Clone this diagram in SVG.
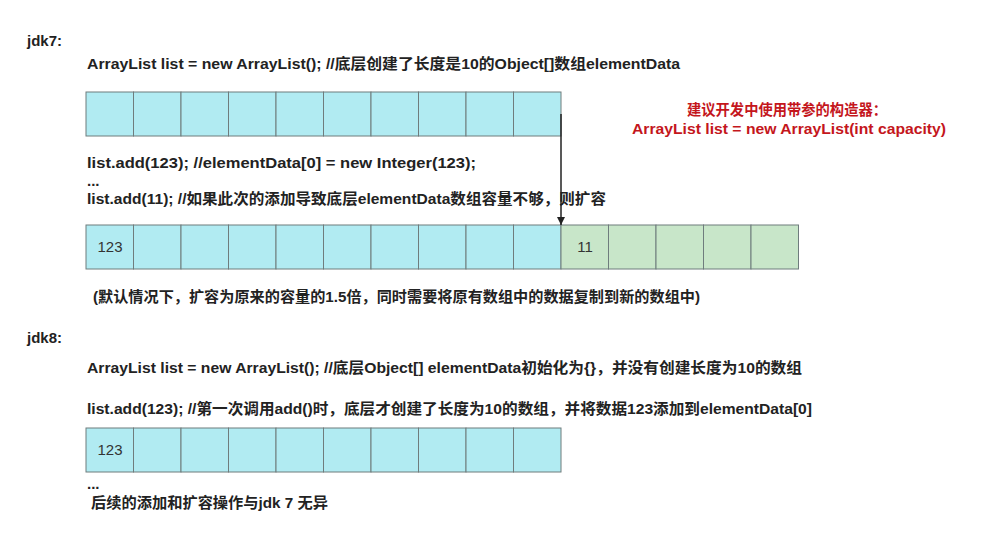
<svg xmlns="http://www.w3.org/2000/svg" width="984" height="537" viewBox="0 0 984 537">
<style>
.t{font-family:"Liberation Sans","Noto Sans CJK SC",sans-serif;font-size:15px;font-weight:bold;fill:#222}
.r{font-family:"Liberation Sans","Noto Sans CJK SC",sans-serif;font-size:15px;font-weight:bold;fill:#C4161C;text-anchor:middle}
.c{fill:#B1EBF2;stroke:#6F7C7D;stroke-width:1}
.g{fill:#C8E6C9;stroke:#6F7C7D;stroke-width:1}
.n{font-family:"Liberation Sans","Noto Sans",sans-serif;font-size:15px;fill:#333;text-anchor:middle}
</style>
<defs>
<marker id="ah" viewBox="0 0 10 10" refX="10" refY="5" markerWidth="8" markerHeight="8" orient="auto" markerUnits="userSpaceOnUse">
<path d="M0,0 L10,5 L0,10 z" fill="#222"/>
</marker>
<g id="cell"><rect class="c" x="0" y="0" width="47.5" height="44"/></g>
<g id="gcell"><rect class="g" x="0" y="0" width="47.5" height="44"/></g>
</defs>
<rect width="984" height="537" fill="#fff"/>
<g id="texts">
<text class="t" x="27" y="46">jdk7:</text>
<text class="t" x="87" y="69" textLength="593" lengthAdjust="spacingAndGlyphs">ArrayList list = new ArrayList(); //底层创建了长度是10的Object[]数组elementData</text>
<text class="t" x="87" y="168" textLength="389" lengthAdjust="spacingAndGlyphs">list.add(123); //elementData[0] = new Integer(123);</text>
<text class="t" x="87" y="186">...</text>
<text class="t" x="87" y="204" textLength="519" lengthAdjust="spacingAndGlyphs">list.add(11); //如果此次的添加导致底层elementData数组容量不够，则扩容</text>
<text class="t" x="93" y="302" textLength="607" lengthAdjust="spacingAndGlyphs">(默认情况下，扩容为原来的容量的1.5倍，同时需要将原有数组中的数据复制到新的数组中)</text>
<text class="t" x="27" y="343">jdk8:</text>
<text class="t" x="87" y="373" textLength="715" lengthAdjust="spacingAndGlyphs">ArrayList list = new ArrayList(); //底层Object[] elementData初始化为{}，并没有创建长度为10的数组</text>
<text class="t" x="87" y="414" textLength="725" lengthAdjust="spacingAndGlyphs">list.add(123); //第一次调用add()时，底层才创建了长度为10的数组，并将数据123添加到elementData[0]</text>
<text class="t" x="87" y="489">...</text>
<text class="t" x="91" y="508" textLength="237" lengthAdjust="spacingAndGlyphs">后续的添加和扩容操作与jdk 7 无异</text>
</g>
<g id="note">
<text class="r" x="787" y="115" textLength="200" lengthAdjust="spacingAndGlyphs">建议开发中使用带参的构造器：</text>
<text class="r" x="789" y="134" textLength="314" lengthAdjust="spacingAndGlyphs">ArrayList list = new ArrayList(int capacity)</text>
</g>
<g id="array1">
<use href="#cell" x="86" y="92"/><use href="#cell" x="133.5" y="92"/><use href="#cell" x="181" y="92"/><use href="#cell" x="228.5" y="92"/><use href="#cell" x="276" y="92"/><use href="#cell" x="323.5" y="92"/><use href="#cell" x="371" y="92"/><use href="#cell" x="418.5" y="92"/><use href="#cell" x="466" y="92"/><use href="#cell" x="513.5" y="92"/>
</g>
<g id="array2">
<use href="#cell" x="86" y="225"/><use href="#cell" x="133.5" y="225"/><use href="#cell" x="181" y="225"/><use href="#cell" x="228.5" y="225"/><use href="#cell" x="276" y="225"/><use href="#cell" x="323.5" y="225"/><use href="#cell" x="371" y="225"/><use href="#cell" x="418.5" y="225"/><use href="#cell" x="466" y="225"/><use href="#cell" x="513.5" y="225"/>
<use href="#gcell" x="561" y="225"/><use href="#gcell" x="608.5" y="225"/><use href="#gcell" x="656" y="225"/><use href="#gcell" x="703.5" y="225"/><use href="#gcell" x="751" y="225"/>
<text class="n" x="110" y="252">123</text>
<text class="n" x="585" y="252">11</text>
</g>
<g id="array3">
<use href="#cell" x="86" y="428"/><use href="#cell" x="133.5" y="428"/><use href="#cell" x="181" y="428"/><use href="#cell" x="228.5" y="428"/><use href="#cell" x="276" y="428"/><use href="#cell" x="323.5" y="428"/><use href="#cell" x="371" y="428"/><use href="#cell" x="418.5" y="428"/><use href="#cell" x="466" y="428"/><use href="#cell" x="513.5" y="428"/>
<text class="n" x="110" y="455">123</text>
</g>
<g id="connectors">
<line x1="561" y1="114" x2="561" y2="225" stroke="#222" stroke-width="1.5" marker-end="url(#ah)"/>
</g>
</svg>
